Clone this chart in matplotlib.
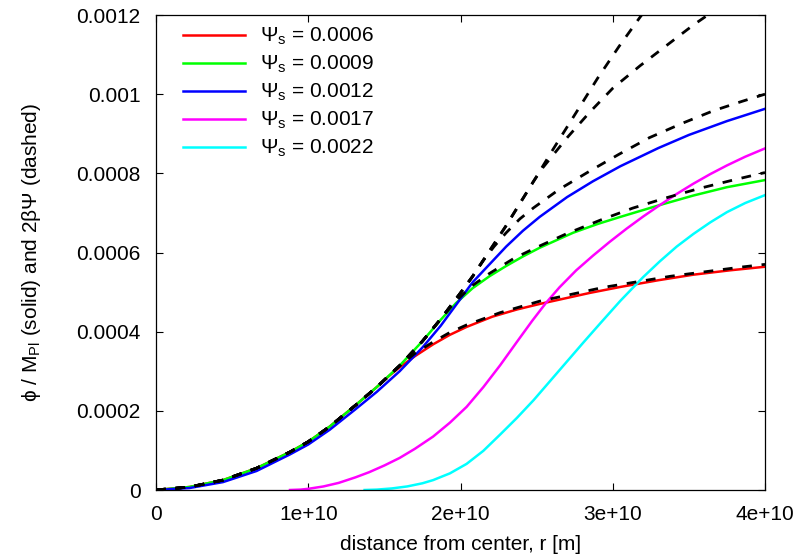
import matplotlib
matplotlib.use("Agg")
import matplotlib.pyplot as plt
import numpy as np

plt.rcParams["font.family"] = ["Liberation Sans", "DejaVu Sans"]
plt.rcParams["mathtext.fontset"] = "custom"
plt.rcParams["mathtext.rm"] = "Liberation Sans"
plt.rcParams["mathtext.it"] = "Liberation Sans:italic"

# r in units of 1e10 m, field values in units of 1e-4
# shared inner part (all curves coincide there)
r_inner = [0, 0.22, 0.44, 0.66, 0.88, 1.0, 1.14, 1.31, 1.45]
y_inner = [0, 0.076, 0.25, 0.55, 0.96, 1.22, 1.6, 2.14, 2.6]
r_mid = [1.6, 1.75, 1.87, 2.0, 2.08, 2.3, 2.48]
y_mid = [3.14, 3.76, 4.32, 4.98, 5.4, 6.68, 7.8]

psi_labels = ["0.0006", "0.0009", "0.0012", "0.0017", "0.0022"]
colors = ["#ff0000", "#00ff00", "#0000ff", "#ff00ff", "#00ffff"]

# solid: phi / M_Pl
r_red = r_inner + [1.53, 1.6, 1.7, 1.82, 1.93, 2.04, 2.21, 2.37, 2.52, 2.65, 2.85,
                   3.05, 3.3, 3.53, 3.77, 4.0]
y_red = y_inner + [2.88, 3.1, 3.38, 3.68, 3.92, 4.12, 4.38, 4.56, 4.7, 4.81, 4.98,
                   5.13, 5.3, 5.44, 5.55, 5.64]

r_green = r_inner + [1.6, 1.75, 1.87, 1.97, 2.08, 2.19, 2.3, 2.41, 2.52, 2.74, 2.9,
                     3.05, 3.31, 3.53, 3.75, 4.0]
y_green = y_inner + [3.14, 3.76, 4.3, 4.72, 5.1, 5.4, 5.66, 5.9, 6.12, 6.5, 6.72,
                     6.9, 7.2, 7.44, 7.65, 7.83]

r_blue = [0, 0.22, 0.44, 0.66, 0.88, 1.0, 1.14, 1.31, 1.45, 1.6, 1.75, 1.87, 2.08,
          2.19, 2.3, 2.41, 2.52, 2.61, 2.7, 2.87, 3.05, 3.3, 3.5, 3.75, 4.0]
y_blue = [0, 0.05, 0.2, 0.48, 0.9, 1.15, 1.52, 2.04, 2.48, 3.0, 3.6, 4.15, 5.25,
          5.7, 6.15, 6.55, 6.9, 7.15, 7.4, 7.8, 8.18, 8.64, 8.97, 9.32, 9.63]

r_magenta = [0.88, 0.95, 1.0, 1.1, 1.2, 1.31, 1.4, 1.5, 1.6, 1.7, 1.82, 1.93, 2.04,
             2.15, 2.26, 2.37, 2.47, 2.56, 2.65, 2.76, 2.87, 2.98, 3.09, 3.2, 3.31,
             3.42, 3.53, 3.64, 3.75, 3.87, 4.0]
y_magenta = [0, 0.01, 0.03, 0.09, 0.18, 0.32, 0.45, 0.62, 0.81, 1.04, 1.35, 1.7, 2.1,
             2.6, 3.15, 3.74, 4.27, 4.72, 5.12, 5.55, 5.92, 6.27, 6.6, 6.91, 7.2,
             7.48, 7.74, 7.98, 8.2, 8.42, 8.63]

r_cyan = [1.37, 1.45, 1.55, 1.65, 1.75, 1.82, 1.93, 2.04, 2.15, 2.26, 2.37, 2.48,
          2.59, 2.7, 2.81, 2.92, 3.05, 3.2, 3.31, 3.42, 3.53, 3.64, 3.75, 3.87, 4.0]
y_cyan = [0, 0.01, 0.04, 0.09, 0.17, 0.25, 0.42, 0.66, 0.99, 1.4, 1.82, 2.27,
          2.76, 3.25, 3.74, 4.22, 4.78, 5.38, 5.78, 6.15, 6.47, 6.76, 7.02, 7.25, 7.45]

# dashed: 2 beta Psi
r_red_d = r_inner + [1.6, 1.7, 1.82, 1.93, 2.04, 2.26, 2.52, 2.94, 3.38, 3.84, 4.0]
y_red_d = y_inner + [3.14, 3.45, 3.74, 3.98, 4.17, 4.48, 4.77, 5.12, 5.4, 5.63, 5.7]

r_green_d = r_inner + r_mid[:3] + [1.97, 2.08, 2.19, 2.35, 2.5, 2.7, 2.92, 3.13, 3.35,
                                   3.57, 3.79, 4.0]
y_green_d = y_inner + y_mid[:3] + [4.78, 5.17, 5.47, 5.85, 6.13, 6.48, 6.82, 7.12, 7.38,
                                   7.62, 7.83, 8.02]

r_blue_d = r_inner + r_mid[:5] + [2.15, 2.22, 2.3, 2.39, 2.48, 2.65, 2.85, 3.04, 3.24,
                                  3.46, 3.66, 3.85, 4.0]
y_blue_d = y_inner + y_mid[:5] + [5.8, 6.15, 6.5, 6.85, 7.13, 7.6, 8.06, 8.48, 8.9,
                                  9.27, 9.58, 9.82, 10.0]

r_magenta_d = r_inner + r_mid + [2.54, 2.7, 2.85, 3.0, 3.18, 3.36, 3.53, 3.7]
y_magenta_d = y_inner + y_mid + [8.14, 8.9, 9.55, 10.15, 10.72, 11.25, 11.75, 12.2]

r_cyan_d = r_inner + r_mid + [2.61, 2.77, 2.9, 3.04, 3.18, 3.3]
y_cyan_d = y_inner + y_mid + [8.62, 9.6, 10.4, 11.2, 11.95, 12.55]

solid = [(r_red, y_red), (r_green, y_green), (r_blue, y_blue),
         (r_magenta, y_magenta), (r_cyan, y_cyan)]
dashed = [(r_red_d, y_red_d), (r_green_d, y_green_d), (r_blue_d, y_blue_d),
          (r_magenta_d, y_magenta_d), (r_cyan_d, y_cyan_d)]

x_ticks = [0, 1e10, 2e10, 3e10, 4e10]
x_ticklabels = ["0", "1e+10", "2e+10", "3e+10", "4e+10"]
y_ticks = [0, 0.0002, 0.0004, 0.0006, 0.0008, 0.001, 0.0012]
y_ticklabels = ["0", "0.0002", "0.0004", "0.0006", "0.0008", "0.001", "0.0012"]

fig = plt.figure(figsize=(8.03, 5.6), dpi=100)
ax = fig.add_axes([0.1943, 0.125, 0.7584, 0.8482])

for (r, y), c, lab in zip(solid, colors, psi_labels):
    ax.plot(np.array(r) * 1e10, np.array(y) * 1e-4, color=c, lw=1.8,
            solid_joinstyle="round", label=r"$\Psi_\mathrm{s}$ = " + lab)

for r, y in dashed:
    ax.plot(np.array(r) * 1e10, np.array(y) * 1e-4, color="black", lw=2.0,
            dashes=(3.5, 3.5))

ax.set_xlim(0, 4e10)
ax.set_ylim(0, 0.0012)
ax.set_xticks(x_ticks)
ax.set_xticklabels(x_ticklabels)
ax.set_yticks(y_ticks)
ax.set_yticklabels(y_ticklabels)
ax.tick_params(direction="in", length=5, width=0.8, top=True, right=True,
               labelsize=15, pad=11)
for s in ax.spines.values():
    s.set_linewidth(0.9)

ax.set_xlabel("distance from center, r [m]", fontsize=15, labelpad=8)
ax.set_ylabel(r"ϕ / M$_\mathrm{Pl}$ (solid) and 2βΨ (dashed)", fontsize=15,
              labelpad=24)

ax.legend(loc="upper left", bbox_to_anchor=(0.044, 0.977), frameon=False,
          fontsize=15, handlelength=3.0, handletextpad=0.7, labelspacing=0.32,
          borderpad=0, borderaxespad=0)

fig.savefig("out.png", dpi=100)
